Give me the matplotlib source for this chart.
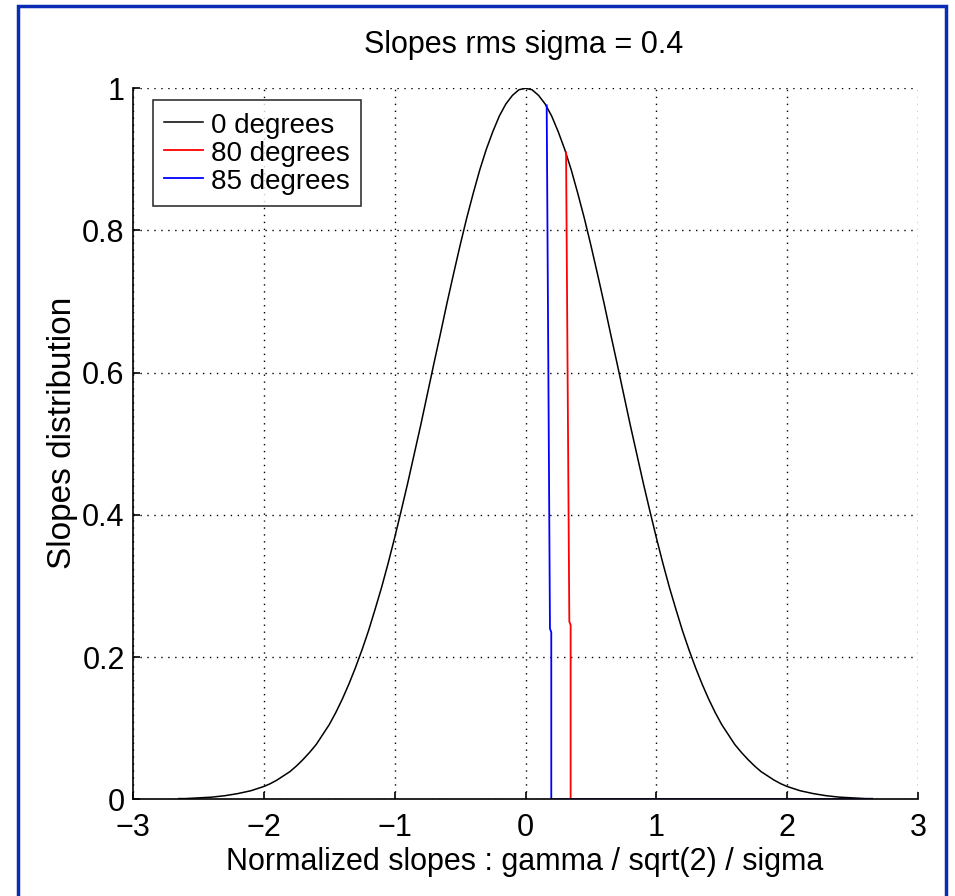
import matplotlib
matplotlib.use("Agg")
import matplotlib.pyplot as plt
from matplotlib.patches import Rectangle

plt.rcParams['font.family'] = ['Liberation Sans', 'DejaVu Sans']

# Black curve: slope distribution for 0 degrees
x0 = [-2.65, -2.6, -2.5, -2.4, -2.3, -2.2, -2.1,
      -2.0, -1.95, -1.9, -1.85, -1.8, -1.75, -1.7, -1.65, -1.6, -1.55, -1.5, -1.45,
      -1.4, -1.35, -1.3, -1.25, -1.2, -1.15, -1.1, -1.05, -1.0, -0.95, -0.9, -0.85,
      -0.8, -0.75, -0.7, -0.65, -0.6, -0.55, -0.5, -0.45, -0.4, -0.35, -0.3, -0.25,
      -0.2, -0.15, -0.1, -0.05, 0.0, 0.05, 0.1, 0.15, 0.2, 0.25, 0.3, 0.35, 0.4,
      0.45, 0.5, 0.55, 0.6, 0.65, 0.7, 0.75, 0.8, 0.85, 0.9, 0.95, 1.0, 1.05, 1.1,
      1.15, 1.2, 1.25, 1.3, 1.35, 1.4, 1.45, 1.5, 1.55, 1.6, 1.65, 1.7, 1.75, 1.8,
      1.85, 1.9, 1.95, 2.0, 2.1, 2.2, 2.3, 2.4, 2.5, 2.6, 2.65]
y0 = [0.001, 0.001, 0.002, 0.003, 0.005, 0.008, 0.012,
      0.018, 0.022, 0.027, 0.033, 0.039, 0.047, 0.056, 0.066, 0.077, 0.091, 0.105,
      0.122, 0.141, 0.162, 0.185, 0.210, 0.237, 0.267, 0.298, 0.332, 0.368, 0.406,
      0.445, 0.486, 0.527, 0.570, 0.613, 0.655, 0.698, 0.739, 0.779, 0.817, 0.852,
      0.885, 0.914, 0.939, 0.961, 0.978, 0.990, 0.998, 1.000, 0.998, 0.990, 0.978,
      0.961, 0.939, 0.914, 0.885, 0.852, 0.817, 0.779, 0.739, 0.698, 0.655, 0.613,
      0.570, 0.527, 0.486, 0.445, 0.406, 0.368, 0.332, 0.298, 0.267, 0.237, 0.210,
      0.185, 0.162, 0.141, 0.122, 0.105, 0.091, 0.077, 0.066, 0.056, 0.047, 0.039,
      0.033, 0.027, 0.022, 0.018, 0.012, 0.008, 0.005, 0.003, 0.002, 0.001, 0.001]

# Red: 80 degrees
x80 = [0.31, 0.335, 0.345, 0.345, 2.65]
y80 = [0.91, 0.25, 0.245, 0.0, 0.0]

# Blue: 85 degrees
x85 = [0.162, 0.187, 0.197, 0.197, 2.65]
y85 = [0.976, 0.24, 0.235, 0.0, 0.0]

labels = ['0 degrees', '80 degrees', '85 degrees']
xticks = [-3, -2, -1, 0, 1, 2, 3]
yticks = [0, 0.2, 0.4, 0.6, 0.8, 1]
yticklabels = ['0', '0.2', '0.4', '0.6', '0.8', '1']

fig = plt.figure(figsize=(9.55, 8.96), dpi=100)
ax = fig.add_axes([133/955, 1-799.3/896, (918-133)/955, (799.3-88.3)/896])

ax.plot(x0, y0, color='black', lw=1.1, label=labels[0])
ax.plot(x80, y80, color='#ff0000', lw=1.3, label=labels[1])
ax.plot(x85, y85, color='#0000ff', lw=1.3, label=labels[2])

ax.set_xlim(-3, 3)
ax.set_ylim(0, 1)
ax.set_xticks(xticks)
ax.set_yticks(yticks)
ax.set_yticklabels(yticklabels)
ax.grid(True, color='black', linestyle=(0, (1, 4)), lw=1.0)
for s in ['top', 'right']:
    ax.spines[s].set_visible(False)
for s in ['left', 'bottom']:
    ax.spines[s].set_linewidth(1.2)
ax.tick_params(direction='in', length=5, width=1.2, labelsize=22)
ax.tick_params(axis='x', pad=10)
ax.tick_params(axis='y', pad=6)

leg = ax.legend(loc='upper left', bbox_to_anchor=(20/785, 1-12/711), borderaxespad=0,
                fontsize=20, frameon=True, fancybox=False, edgecolor='black',
                handlelength=1.4, handleheight=1.0, handletextpad=0.3,
                labelspacing=0.0, borderpad=0.4)
leg.get_frame().set_linewidth(1.2)

fig.text(524/955, 1-45/896, 'Slopes rms sigma = 0.4', ha='center', va='center', fontsize=22)
fig.text(525/955, 1-862/896, 'Normalized slopes : gamma / sqrt(2) / sigma',
         ha='center', va='center', fontsize=22)
fig.text(62/955, 1-433/896, 'Slopes distribution', ha='center', va='center',
         rotation=90, fontsize=24)

fig.patches.append(Rectangle((18/955, -0.05), (946-18)/955, 1.05-6/896,
                             transform=fig.transFigure, fill=False,
                             edgecolor='#0b2db5', lw=2.5, clip_on=False))

fig.savefig('out.png', dpi=100)
